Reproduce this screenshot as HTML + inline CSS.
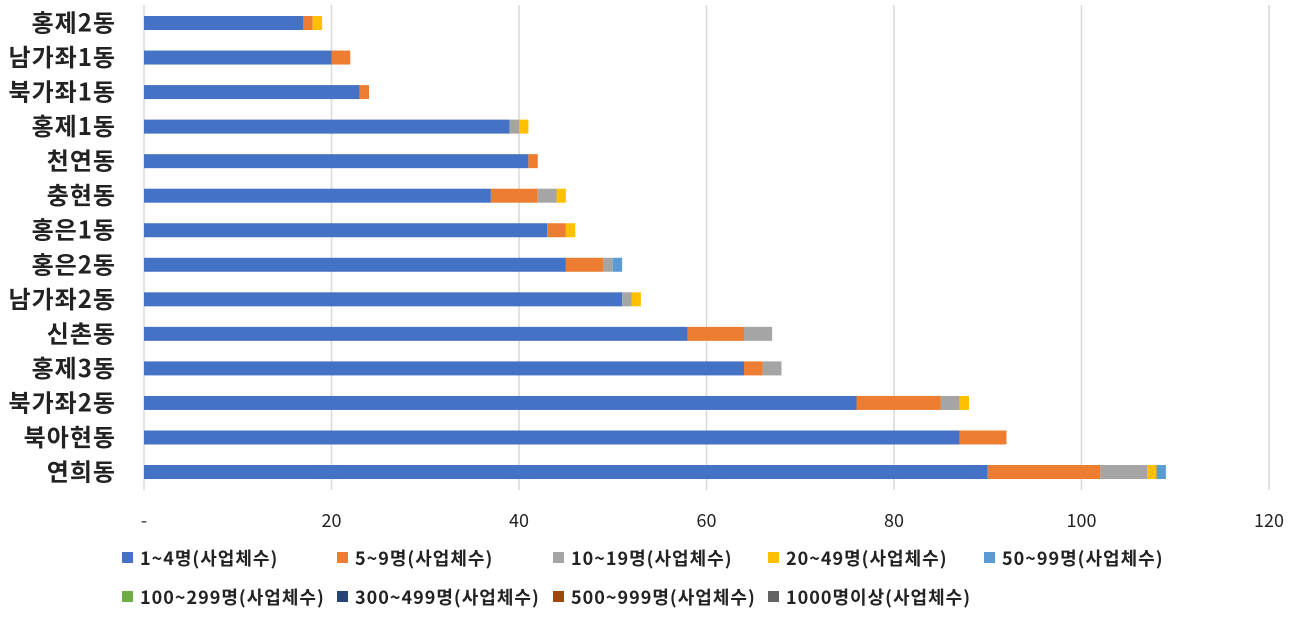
<!DOCTYPE html><html><head><meta charset="utf-8"><style>body{margin:0;background:#fff}svg{display:block}text{font-family:"Noto Sans CJK KR","Liberation Sans",sans-serif}</style></head><body>
<svg width="1305" height="621" xmlns="http://www.w3.org/2000/svg">
<g stroke="#d9d9d9" stroke-width="1.5">
<line x1="144" y1="5" x2="144" y2="490"/><line x1="331.5" y1="5" x2="331.5" y2="490"/><line x1="519" y1="5" x2="519" y2="490"/><line x1="706.5" y1="5" x2="706.5" y2="490"/><line x1="894" y1="5" x2="894" y2="490"/><line x1="1081.5" y1="5" x2="1081.5" y2="490"/><line x1="1269" y1="5" x2="1269" y2="490"/>
</g>
<g id="bars"></g>
<g font-size="18" fill="#222" text-anchor="middle">
<text x="144" y="527">-</text><text x="331.5" y="527">20</text><text x="519" y="527">40</text><text x="706.5" y="527">60</text><text x="894" y="527">80</text><text x="1081.5" y="527">100</text><text x="1269" y="527">120</text>
</g>
<g id="labels" font-size="24" font-weight="bold" fill="#222" text-anchor="end" letter-spacing="1"></g>
<g font-size="18" font-weight="bold" fill="#222" letter-spacing="1">
<rect x="122" y="552" width="11" height="11" fill="#4472c4"/><text x="140" y="565">1~4명(사업체수)</text>
<rect x="337" y="552" width="11" height="11" fill="#ed7d31"/><text x="355" y="565">5~9명(사업체수)</text>
<rect x="553" y="552" width="11" height="11" fill="#a5a5a5"/><text x="571" y="565">10~19명(사업체수)</text>
<rect x="768" y="552" width="11" height="11" fill="#ffc000"/><text x="786" y="565">20~49명(사업체수)</text>
<rect x="984" y="552" width="11" height="11" fill="#5b9bd5"/><text x="1002" y="565">50~99명(사업체수)</text>
<rect x="122" y="591" width="11" height="11" fill="#70ad47"/><text x="140" y="604">100~299명(사업체수)</text>
<rect x="337" y="591" width="11" height="11" fill="#264478"/><text x="355" y="604">300~499명(사업체수)</text>
<rect x="553" y="591" width="11" height="11" fill="#9e480e"/><text x="571" y="604">500~999명(사업체수)</text>
<rect x="768" y="591" width="11" height="11" fill="#636363"/><text x="786" y="604">1000명이상(사업체수)</text>
</g>
</svg>
<script>
const d=[["홍제2동",[17,1,0,1]],["남가좌1동",[20,2]],["북가좌1동",[23,1]],["홍제1동",[39,0,1,1]],["천연동",[41,1]],["충현동",[37,5,2,1]],["홍은1동",[43,2,0,1]],["홍은2동",[45,4,1,0,1]],["남가좌2동",[51,0,1,1]],["신촌동",[58,6,3]],["홍제3동",[64,2,2]],["북가좌2동",[76,9,2,1]],["북아현동",[87,5]],["연희동",[90,12,5,1,1]]];
const c=["#4472c4","#ed7d31","#a5a5a5","#ffc000","#5b9bd5"];const ns="http://www.w3.org/2000/svg";
const B=document.getElementById("bars"),L=document.getElementById("labels");
d.forEach((r,i)=>{const cy=23+i*34.54;let x=144;r[1].forEach((v,j)=>{if(!v)return;const e=document.createElementNS(ns,"rect");e.setAttribute("x",x);e.setAttribute("y",cy-7);e.setAttribute("width",v*9.375);e.setAttribute("height",14);e.setAttribute("fill",c[j]);B.appendChild(e);x+=v*9.375;});
const t=document.createElementNS(ns,"text");t.setAttribute("x",116);t.setAttribute("y",cy+8.5);t.textContent=r[0];L.appendChild(t);});
</script>
</body></html>
